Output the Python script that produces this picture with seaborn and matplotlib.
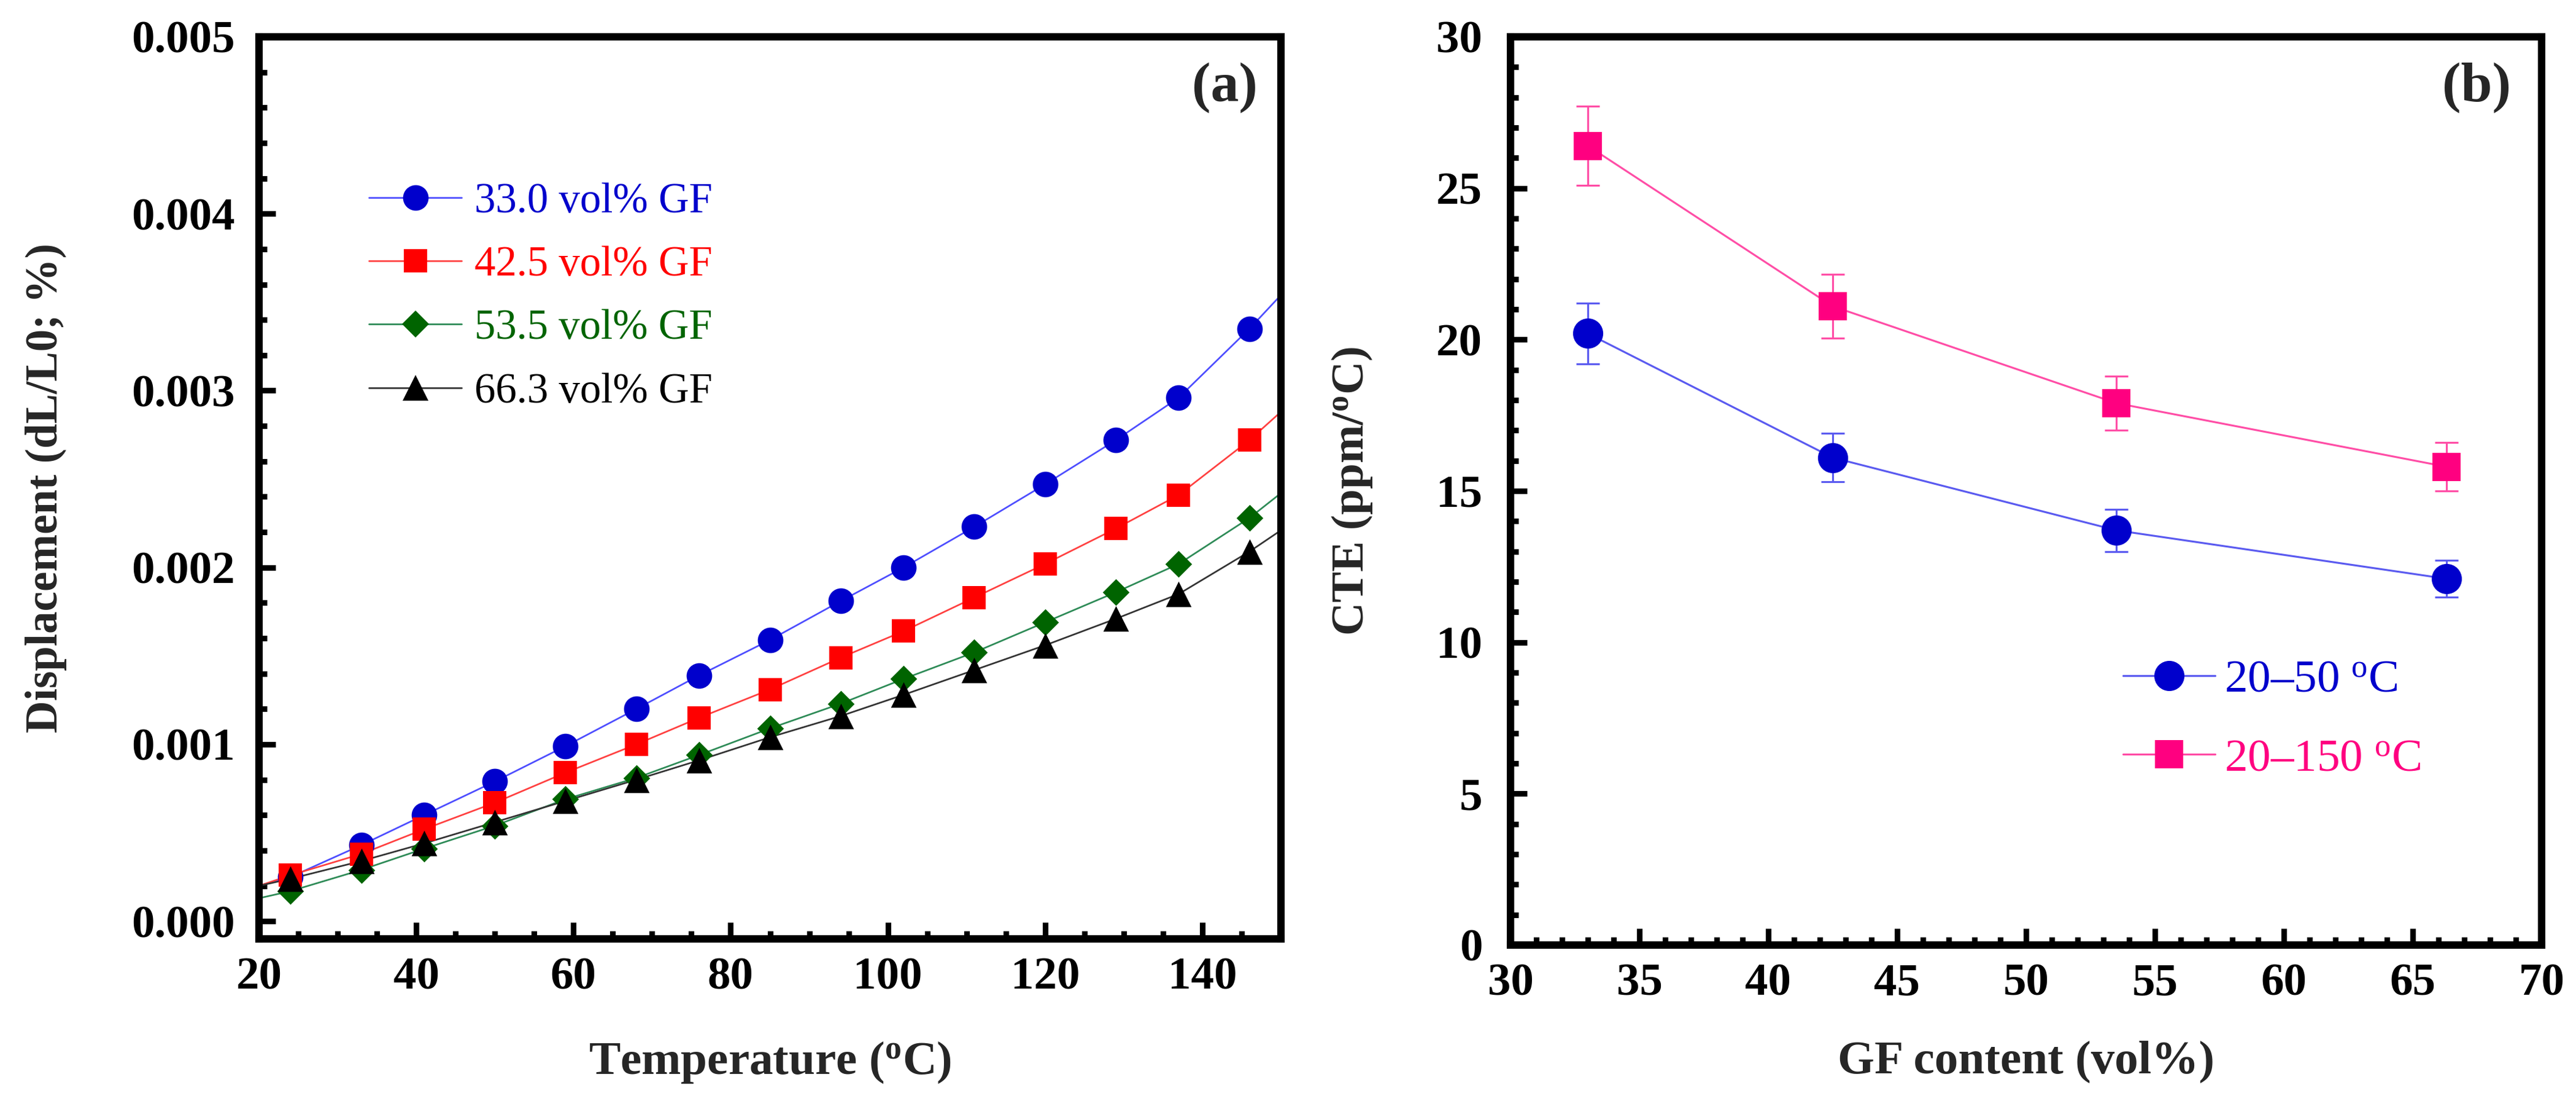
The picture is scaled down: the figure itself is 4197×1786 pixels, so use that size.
import pandas as pd
import matplotlib
matplotlib.use("Agg")
import matplotlib.pyplot as plt
import seaborn as sns
from matplotlib.lines import Line2D
from matplotlib.ticker import MultipleLocator, FormatStrFormatter

# ---- data ----
# (a) displacement vs temperature
temp = [24, 33, 41, 50, 59, 68, 76, 85, 94, 102, 111, 120, 129, 137, 146]
gf_labels = ["33.0 vol% GF", "42.5 vol% GF", "53.5 vol% GF", "66.3 vol% GF"]
disp_33 = [0.00025, 0.00043, 0.00060, 0.00079, 0.00099, 0.00120, 0.00139, 0.00159,
           0.00181, 0.00200, 0.00223, 0.00247, 0.00272, 0.00296, 0.00335]
disp_42 = [0.00026, 0.00038, 0.00052, 0.00067, 0.00084, 0.00100, 0.00115, 0.00131,
           0.00149, 0.00164, 0.00183, 0.00202, 0.00222, 0.00241, 0.00272]
disp_53 = [0.00017, 0.00029, 0.00041, 0.00054, 0.00069, 0.00081, 0.00094, 0.00109,
           0.00123, 0.00137, 0.00152, 0.00169, 0.00186, 0.00202, 0.00228]
disp_66 = [0.00024, 0.00034, 0.00044, 0.00056, 0.00068, 0.00080, 0.00091, 0.00104,
           0.00116, 0.00128, 0.00142, 0.00156, 0.00171, 0.00185, 0.00209]
# where the fitted curves meet the frame (x = 20 and x = 150)
edge_temp = [20, 150]
edge_33 = [0.00020, 0.00354]
edge_42 = [0.00020, 0.00288]
edge_53 = [0.00013, 0.00242]
edge_66 = [0.00020, 0.00221]

# (b) CTE vs GF content
gf_content = [33.0, 42.5, 53.5, 66.3]
cte_20_50 = [20.2, 16.1, 13.7, 12.1]
err_20_50 = [1.0, 0.8, 0.7, 0.6]
cte_20_150 = [26.4, 21.1, 17.9, 15.8]
err_20_150 = [1.3, 1.05, 0.9, 0.8]
range_labels = ["20\u201350 $^{\\mathrm{o}}$C", "20\u2013150 $^{\\mathrm{o}}$C"]

# ---- style ----
sns.set_style("ticks")
plt.rcParams["font.family"] = ["Liberation Serif", "DejaVu Serif"]
plt.rcParams["mathtext.fontset"] = "custom"
plt.rcParams["mathtext.rm"] = "Liberation Serif"
plt.rcParams["mathtext.it"] = "Liberation Serif:italic"
plt.rcParams["mathtext.bf"] = "Liberation Serif:bold"

fig = plt.figure(figsize=(4197 / 300, 1786 / 300), dpi=300)
ax1 = fig.add_axes([422 / 4197, 256 / 1786, 1665 / 4197, 1470 / 1786])
ax2 = fig.add_axes([2461 / 4197, 246 / 1786, 1680 / 4197, 1480 / 1786])


def frame(ax, ypad):
    for s in ax.spines.values():
        s.set_linewidth(2.9)
        s.set_color("black")
    ax.tick_params(which="both", direction="in", top=False, right=False, width=2.2,
                   colors="black")
    ax.tick_params(which="major", length=6.5, labelsize=18)
    ax.tick_params(which="minor", length=3.2)
    ax.tick_params(axis="y", pad=ypad)
    ax.tick_params(axis="x", pad=7)
    for lab in ax.get_xticklabels() + ax.get_yticklabels():
        lab.set_fontweight("bold")


# ---- panel (a) ----
series_a = [
    (disp_33, edge_33, "#0000CC", "#4D4DFF", "o", 10.0),
    (disp_42, edge_42, "#FF0000", "#FF4040", "s", 9.2),
    (disp_53, edge_53, "#006400", "#2E8B57", "D", 7.4),
    (disp_66, edge_66, "#000000", "#333333", "^", 10.0),
]
handles_a = []
for (vals, edge, col, lcol, mk, ms), lab in zip(series_a, gf_labels):
    curve = pd.DataFrame({"T": [edge_temp[0]] + temp + [edge_temp[1]],
                          "d": [edge[0]] + vals + [edge[1]]})
    sns.lineplot(data=curve, x="T", y="d", ax=ax1, color=lcol, lw=0.65, legend=False)
    pts = pd.DataFrame({"T": temp, "d": vals})
    sns.scatterplot(data=pts, x="T", y="d", ax=ax1, color=col, marker=mk,
                    s=ms ** 2, linewidth=0, legend=False, zorder=3)
    handles_a.append(Line2D([], [], color=lcol, lw=0.65, marker=mk, ms=ms, mew=0,
                            mfc=col, label=lab))

ax1.set_xlim(20, 150)
ax1.set_ylim(-0.0001, 0.005)
ax1.xaxis.set_major_locator(MultipleLocator(20))
ax1.xaxis.set_minor_locator(MultipleLocator(5))
ax1.yaxis.set_major_locator(MultipleLocator(0.001))
ax1.yaxis.set_minor_locator(MultipleLocator(0.0002))
ax1.yaxis.set_major_formatter(FormatStrFormatter("%.3f"))
frame(ax1, 9.5)
ax1.set_xlabel("Temperature ($\\mathbf{^{o}}$C)", fontsize=18.5, fontweight="bold")
ax1.set_ylabel("Displacement (dL/L0; %)", fontsize=17.5, fontweight="bold")
ax1.xaxis.set_label_coords(0.5, -0.112)
ax1.yaxis.set_label_coords(-0.188, 0.5)
leg1 = ax1.legend(handles=handles_a, loc="upper left", bbox_to_anchor=(0.087, 0.862),
                  frameon=False, fontsize=16.5, handlelength=2.2, handletextpad=0.3,
                  labelspacing=0.58, borderpad=0)
for t, (_, _, col, _, _, _) in zip(leg1.get_texts(), series_a):
    t.set_color(col)
ax1.text(0.945, 0.944, "(a)", transform=ax1.transAxes, fontsize=22, fontweight="bold",
         ha="center", va="center")

# ---- panel (b) ----
series_b = [
    (cte_20_50, err_20_50, "#0000CC", "#5A5AF0", "o", 11.8),
    (cte_20_150, err_20_150, "#FF0080", "#FF4DA6", "s", 11.0),
]
handles_b = []
for (vals, err, col, lcol, mk, ms), lab in zip(series_b, range_labels):
    df = pd.DataFrame({"gf": gf_content, "cte": vals})
    sns.lineplot(data=df, x="gf", y="cte", ax=ax2, color=lcol, lw=0.75, legend=False,
                 zorder=2)
    sns.scatterplot(data=df, x="gf", y="cte", ax=ax2, color=col, marker=mk,
                    s=ms ** 2, linewidth=0, legend=False, zorder=4)
    ax2.errorbar(gf_content, vals, yerr=err, fmt="none", ecolor=lcol, elinewidth=0.75,
                 capsize=4.5, capthick=0.75, zorder=2)
    handles_b.append(Line2D([], [], color=lcol, lw=0.75, marker=mk, ms=ms, mew=0,
                            mfc=col, label=lab))

ax2.set_xlim(30, 70)
ax2.set_ylim(0, 30)
ax2.xaxis.set_major_locator(MultipleLocator(5))
ax2.xaxis.set_minor_locator(MultipleLocator(1))
ax2.yaxis.set_major_locator(MultipleLocator(5))
ax2.yaxis.set_minor_locator(MultipleLocator(1))
frame(ax2, 11)
ax2.set_xlabel("GF content (vol%)", fontsize=18.5, fontweight="bold")
ax2.set_ylabel("CTE (ppm/$\\mathbf{^{o}}$C)", fontsize=18, fontweight="bold")
ax2.xaxis.set_label_coords(0.5, -0.105)
ax2.yaxis.set_label_coords(-0.132, 0.5)
leg2 = ax2.legend(handles=handles_b, loc="upper left", bbox_to_anchor=(0.572, 0.34),
                  frameon=False, fontsize=18, handlelength=2.0, handletextpad=0.2,
                  labelspacing=0.8, borderpad=0)
for t, (_, _, col, _, _, _) in zip(leg2.get_texts(), series_b):
    t.set_color(col)
ax2.text(0.937, 0.944, "(b)", transform=ax2.transAxes, fontsize=22, fontweight="bold",
         ha="center", va="center")

fig.savefig("out.png", dpi=300, facecolor="white")
